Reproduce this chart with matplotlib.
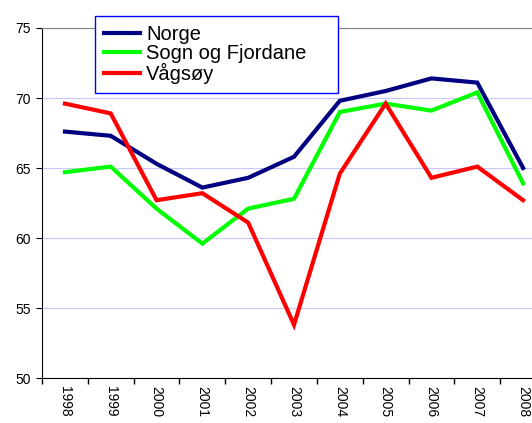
import numpy as np
import matplotlib.pyplot as plt

# values
years = ['1998', '1999', '2000', '2001', '2002', '2003', '2004', '2005', '2006', '2007', '2008']
norge = [67.6, 67.3, 65.3, 63.6, 64.3, 65.8, 69.8, 70.5, 71.4, 71.1, 65.0]
sogn = [64.7, 65.1, 62.1, 59.6, 62.1, 62.8, 69.0, 69.6, 69.1, 70.4, 63.9]
vagsoy = [69.6, 68.9, 62.7, 63.2, 61.1, 53.8, 64.6, 69.6, 64.3, 65.1, 62.7]

plt.rcParams['font.family'] = ['Liberation Sans', 'DejaVu Sans']

W, H = 532, 423
fig = plt.figure(figsize=(W / 100, H / 100), dpi=100)
# plot area runs past the right edge, as in the reference
ax = fig.add_axes([42 / W, 45 / H, 504 / W, 350 / H])

x = np.arange(len(years))
ax.plot(x, norge, color='#000080', lw=3, label='Norge', solid_joinstyle='miter')
ax.plot(x, sogn, color='#00FF00', lw=3, label='Sogn og Fjordane', solid_joinstyle='miter')
ax.plot(x, vagsoy, color='#FF0000', lw=3, label='Vågsøy', solid_joinstyle='miter')

ax.set_xlim(-0.5, len(years) - 0.5)
ax.set_ylim(50, 75)
ax.set_yticks([50, 55, 60, 65, 70, 75])
ax.grid(axis='y', color='#C8C8FF', lw=0.8)
ax.set_axisbelow(True)

ax.set_xticks(x)
ax.set_xticklabels(years, rotation=270, fontsize=10)
ax.set_xticks(np.arange(-0.5, len(years)), minor=True)
ax.tick_params(axis='x', which='major', length=0, pad=6)
ax.tick_params(axis='x', which='minor', length=4, direction='out', width=1)
ax.tick_params(axis='y', length=4, direction='out', labelsize=10, pad=4)

ax.spines['right'].set_visible(False)
ax.spines['top'].set_color('#808080')
ax.spines['left'].set_color('black')
ax.spines['bottom'].set_color('black')

# legend box spans roughly x 95..338, y 16..95 px
leg = ax.legend(loc='upper left',
                bbox_to_anchor=(95 / W, 1 - 16 / H, 243 / W, 0.0),
                bbox_transform=fig.transFigure, mode='expand',
                fontsize=14.5, frameon=True, fancybox=False,
                edgecolor='#0000FF', handlelength=1.8,
                borderpad=0.45, labelspacing=0.0, handletextpad=0.3,
                borderaxespad=0)
leg.get_frame().set_linewidth(1)
leg.get_frame().set_alpha(1)
for t in leg.get_texts():
    t.set_x(0)
leg._legend_box.align = 'left'

fig.savefig('out.png', dpi=100)
